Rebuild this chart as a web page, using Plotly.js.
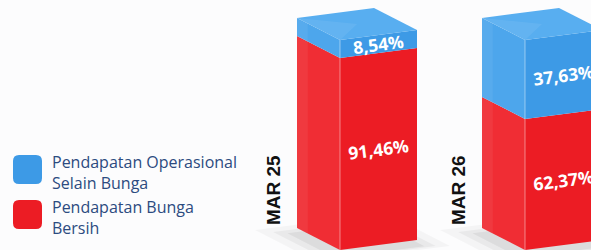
<!DOCTYPE html>
<html><head><meta charset="utf-8">
<script src="https://cdn.plot.ly/plotly-3.0.1.min.js"></script>
<style>html,body{margin:0;padding:0;background:#fcfcfd;overflow:hidden}</style>
</head><body>
<div id="chart" style="width:591px;height:250px"></div>
<script>
// ---- data ----
const categories = ['MAR 25', 'MAR 26'];
const seriesNames = ['Pendapatan Bunga Bersih', 'Pendapatan Operasional Selain Bunga'];
const legendLines = [['Pendapatan Bunga', 'Bersih'], ['Pendapatan Operasional', 'Selain Bunga']];
const pendapatanBungaBersih = [91.46, 62.37];
const pendapatanOperasionalSelainBunga = [8.54, 37.63];

// ---- styling / projection ----
const W = 591, H = 250;
const PXX = 185, PXY = 2.1;            // pixels per x unit / per percent
const UX = 77 / PXX, UY = 10 / PXY;     // front face width vector
const DX = -43 / PXX, DY = 22 / PXY;    // depth vector (towards back-left)
const X0OFF = -38.5 / PXX;
const front = ['#ec1c24', '#3d9ae6'];
const side = ['#f02d34', '#4da6ec'];
const topCol = '#58aef0';

function P(i, u, w, h) {
  return [i + X0OFF + u * UX + w * DX, h + u * UY + w * DY];
}
function poly(pts, color, line) {
  const xs = pts.map(p => p[0]), ys = pts.map(p => p[1]);
  xs.push(xs[0]); ys.push(ys[0]);
  return {x: xs, y: ys, type: 'scatter', mode: 'lines', fill: 'toself', fillcolor: color,
    line: line || {width: 0}, hoverinfo: 'skip', showlegend: false};
}
const series = [pendapatanBungaBersih, pendapatanOperasionalSelainBunga];
const traces = [];
const annotations = [];
const fmt = v => v.toFixed(2).replace('.', ',') + '%';
const ang = Math.atan2(-10, 77) * 180 / Math.PI;

categories.forEach((cat, i) => {
  [[0.35, 'rgba(0,0,0,0.03)'], [0.2, 'rgba(0,0,0,0.045)'], [0.08, 'rgba(0,0,0,0.055)']].forEach(([e, c]) => {
    traces.push(poly([P(i, -e, -e * 0.4, -3), P(i, 1 + e, -e * 0.4, -3), P(i, 1 + e, 1 + e, -3), P(i, -e, 1 + e, -3)], c));
  });
  let base = 0;
  series.forEach((vals, s) => {
    const h0 = base, h1 = base + vals[i];
    traces.push(poly([P(i, 0, 0, h0), P(i, 0, 1, h0), P(i, 0, 1, h1), P(i, 0, 0, h1)], side[s]));
    traces.push(poly([P(i, 0, 1, h0), P(i, 0, 0.75, h0), P(i, 0, 0.75, h1), P(i, 0, 1, h1)], 'rgba(255,255,255,0.06)'));
    traces.push(poly([P(i, 0, 0, h0), P(i, 1, 0, h0), P(i, 1, 0, h1), P(i, 0, 0, h1)], front[s]));
    const c = P(i, 0.5, 0, (h0 + h1) / 2);
    annotations.push({xref: 'x', yref: 'y', x: c[0], y: c[1], text: fmt(vals[i]), showarrow: false,
      textangle: ang, font: {family: 'Open Sans', size: 17.5, color: '#ffffff', weight: 700}});
    base = h1;
  });
  traces.push(poly([P(i, 0, 0, base), P(i, 1, 0, base), P(i, 1, 1, base), P(i, 0, 1, base)], topCol));
  traces.push(poly([P(i, 0, 0, base), P(i, 0.5, 0.5, base), P(i, 0, 1, base)], 'rgba(255,255,255,0.07)'));
  const e0 = P(i, 0, 0, 0), e1 = P(i, 0, 0, base);
  traces.push({x: [e0[0], e1[0]], y: [e0[1], e1[1]], type: 'scatter', mode: 'lines',
    line: {color: 'rgba(255,255,255,0.45)', width: 1}, hoverinfo: 'skip', showlegend: false});
  annotations.push({xref: 'x', yref: 'y', x: i - 0.57, y: 60 / PXY, text: cat, showarrow: false,
    textangle: -90, font: {family: 'Liberation Sans', size: 19, color: '#111111', weight: 700}});
});

function rrect(x0, y0, x1, y1, r) {
  const X = v => v / W, Y = v => 1 - v / H;
  return `M${X(x0 + r)},${Y(y0)} L${X(x1 - r)},${Y(y0)} Q${X(x1)},${Y(y0)} ${X(x1)},${Y(y0 + r)} ` +
    `L${X(x1)},${Y(y1 - r)} Q${X(x1)},${Y(y1)} ${X(x1 - r)},${Y(y1)} L${X(x0 + r)},${Y(y1)} ` +
    `Q${X(x0)},${Y(y1)} ${X(x0)},${Y(y1 - r)} L${X(x0)},${Y(y0 + r)} Q${X(x0)},${Y(y0)} ${X(x0 + r)},${Y(y0)} Z`;
}
const legendRows = [{s: 1, top: 155}, {s: 0, top: 200}];
const shapes = [];
legendRows.forEach(r => {
  shapes.push({type: 'path', xref: 'paper', yref: 'paper', path: rrect(13, r.top, 42, r.top + 29, 6),
    fillcolor: front[r.s], line: {width: 0}});
  annotations.push({xref: 'paper', yref: 'paper', x: 51 / W, y: 1 - (r.top + 17.5) / H, xanchor: 'left',
    yanchor: 'middle', align: 'left', showarrow: false, borderpad: 0, text: legendLines[r.s].join('<br>'),
    font: {family: 'Open Sans', size: 16, color: '#2c4b80'}});
});

const layout = {
  width: W, height: H, margin: {l: 0, r: 0, t: 0, b: 0},
  paper_bgcolor: '#fcfcfd', plot_bgcolor: 'rgba(0,0,0,0)',
  xaxis: {range: [-378.5 / PXX, (W - 378.5) / PXX], visible: false, fixedrange: true},
  yaxis: {range: [0, H / PXY], visible: false, fixedrange: true},
  showlegend: false, annotations: annotations, shapes: shapes
};
Plotly.newPlot('chart', traces, layout, {staticPlot: true, displayModeBar: false});
</script>
</body></html>
